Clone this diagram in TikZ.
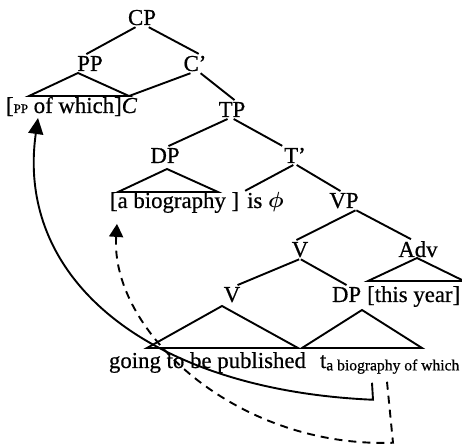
\documentclass[tikz,border=0pt]{standalone}
\usepackage{amsmath}
\usepackage{fontspec}
\setmainfont{Liberation Serif}[FakeBold=0.6]
\usetikzlibrary{arrows.meta,calc}

\begin{document}
\begin{tikzpicture}[x=0.5pt, y=-0.5pt, line width=0.95pt,
	every node/.style={inner sep=1pt, outer sep=0pt, anchor=base, font=\fontsize{11.4}{13}\selectfont},
	lft/.style={anchor=base west},
	mv/.style={-{Triangle[length=8pt,width=7.5pt]}},
	mvd/.style={dashed, dash pattern=on 4pt off 3pt, -{Triangle[length=6.5pt,width=7pt]}}]
	\useasboundingbox (0, 0) rectangle (462, 448);

	\node at (142, 25) (CP)	{CP};
	\node at (90, 71) (PP)	{PP};
	\node at (195, 71) (Cb)	{C'};
	\node[lft] at (4, 113) (PPw)	{[{\fontsize{6.5}{8}\selectfont PP} of which]};
	\node[lft] at ($(PPw.base east)+(-4, 0)$) (C)	{\itshape C};
	\node at (232, 117) (TP)	{TP};
	\node at (165, 163) (DP)	{DP};
	\node at (295, 163) (Tb)	{T'};
	\node[lft] at (108, 208) (DPw)	{[a biography ]};
	\node[lft] at ($(DPw.base east)+(4, 0)$) (T)	{is $\boldsymbol{\phi}$};
	\node at (344, 208) (VP)	{VP};
	\node at (300, 257) (V)	{V};
	\node at (418, 257) (Adv)	{Adv};
	\node at (232, 302) (Vl)	{V};
	\node[lft] at (330, 302) (DPo)	{DP};
	\node[lft] at ($(DPo.base east)+(2, 0)$) (Advw)	{[this year]};
	\node[lft] at (107, 368) (Vw)	{going to be published};
	\node[lft] at (318, 368) (tr)	{t\raisebox{-1.2pt}{\fontsize{7.8}{9}\selectfont a biography of which}};

	\draw (CP.-124) edge (PP.111) (CP.-55) edge (Cb.69);
	\draw (Cb.-115) edge (C.north) (Cb.-60) edge (TP.75);
	\draw (TP.-115) edge (DP.70) (TP.-80) edge (Tb.north west);
	\draw (Tb.-100) edge (T.north west) (Tb.-80) edge (VP.110);
	\draw (VP.-40) edge (V.110) (VP.-38) edge (Adv.125);
	\draw (V.-95) edge (Vl.60) (V.-85) edge (DPo.north);

	\draw (78, 73) -- (29, 96) -- (129, 96) -- cycle;
	\draw (167, 169) -- (118, 192) -- (218, 192) -- cycle;
	\draw (417, 258) -- (368, 281) -- (464, 281) -- cycle;
	\draw (222, 306) -- (147, 348) -- (298, 348) -- cycle;
	\draw (362, 310) -- (302, 348) -- (422, 348) -- cycle;

	\draw[mv] ($(tr.south west)+(54, 7)$) -- ++(1, 17) .. controls (150, 390) and (15, 280) .. ($(PPw.south west)+(34, 0)$);
	\draw[mvd] ($(tr.south west)+(69, 6)$) -- ++(6, 61) .. controls (235, 448) and (110, 330) .. ($(DPw.south west)+(9, 9)$);
\end{tikzpicture}
\end{document}
